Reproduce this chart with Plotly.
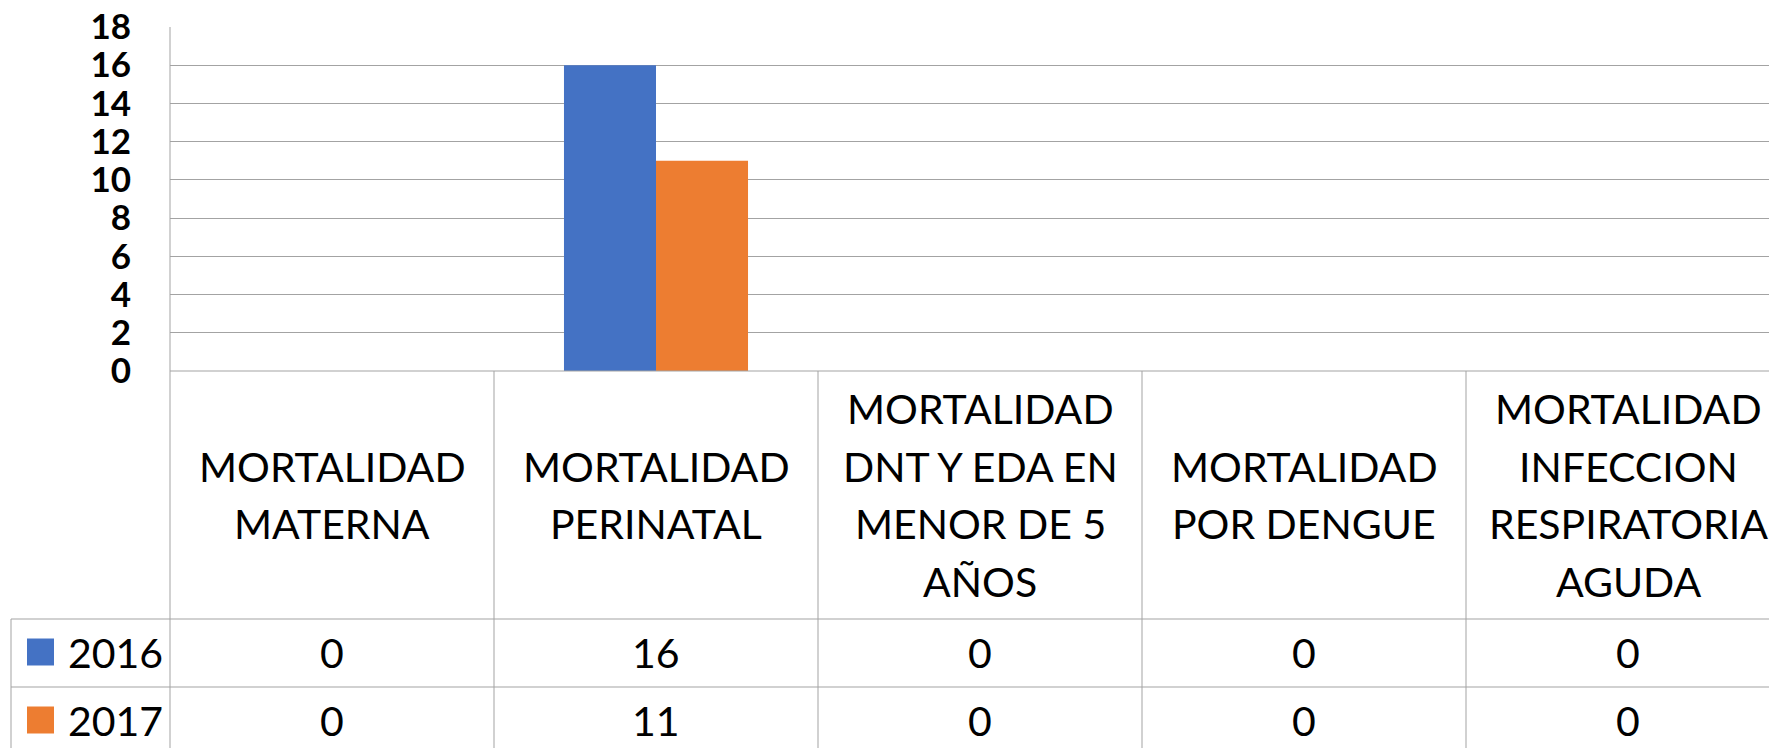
import plotly.graph_objects as go

# ---------------- data ----------------
categories = [
    "MORTALIDAD MATERNA",
    "MORTALIDAD PERINATAL",
    "MORTALIDAD DNT Y EDA EN MENOR DE 5 AÑOS",
    "MORTALIDAD POR DENGUE",
    "MORTALIDAD INFECCION RESPIRATORIA AGUDA",
]
header_labels = [
    "MORTALIDAD<br>MATERNA",
    "MORTALIDAD<br>PERINATAL",
    "MORTALIDAD<br>DNT Y EDA EN<br>MENOR DE 5<br>AÑOS",
    "MORTALIDAD<br>POR DENGUE",
    "MORTALIDAD<br>INFECCION<br>RESPIRATORIA<br>AGUDA",
]
series_names = ["2016", "2017"]
values_2016 = [0, 16, 0, 0, 0]
values_2017 = [0, 11, 0, 0, 0]
series_colors = ["#4472C4", "#ED7D31"]
y_tick_values = [0, 2, 4, 6, 8, 10, 12, 14, 16, 18]

# ---------------- layout geometry ----------------
W, H = 1769, 748
ML, MR, MT, MB = 170, 0, 27, 377
PW, PH = W - ML - MR, H - MT - MB
COL_W = 324.0
X0 = -0.5
X1 = X0 + PW / COL_W

GRID = "#A3A3A3"
FONT = "Lato"
TXT = 41
LINE_GAP = 57.5


def xp(px):
    return (px - ML) / PW


def yp(py):
    return (H - MB - py) / PH


def cat_paper(pos):
    return (pos - X0) / (X1 - X0)


series = [values_2016, values_2017]

fig = go.Figure()
for name, vals, col in zip(series_names, series, series_colors):
    fig.add_trace(go.Bar(x=categories, y=vals, name=name, marker_color=col,
                         marker_line_width=0, showlegend=False))

shapes = []
line = dict(color=GRID, width=1)
# left border of plot + table
shapes.append(dict(type="line", xref="paper", yref="paper", x0=0, x1=0,
                   y0=1, y1=yp(H + 5), line=line))
# column separators in table
for k in range(1, len(categories)):
    xx = cat_paper(k - 0.5)
    if xx <= 1:
        shapes.append(dict(type="line", xref="paper", yref="paper", x0=xx, x1=xx,
                           y0=0, y1=yp(H + 5), line=line))
# horizontal row lines
header_top = H - MB
header_bottom = 619
row_h = 68
for r in range(len(series_names)):
    yy = header_bottom + r * row_h
    shapes.append(dict(type="line", xref="paper", yref="paper", x0=xp(11), x1=1,
                       y0=yp(yy), y1=yp(yy), line=line))
# legend column left border
shapes.append(dict(type="line", xref="paper", yref="paper", x0=xp(11), x1=xp(11),
                   y0=yp(header_bottom), y1=yp(H + 5), line=line))
# baseline
shapes.append(dict(type="line", xref="paper", yref="paper", x0=0, x1=1,
                   y0=0, y1=0, line=line))

annotations = []
# header text, one annotation per line for exact line spacing
header_mid = (header_top + header_bottom) / 2
for cat, lab in zip(categories, header_labels):
    parts = lab.split("<br>")
    n = len(parts)
    for i, part in enumerate(parts):
        cy = header_mid + (i - (n - 1) / 2) * LINE_GAP
        annotations.append(dict(x=cat, xref="x", y=yp(cy), yref="paper",
                                text=part, showarrow=False, xanchor="center",
                                yanchor="middle",
                                font=dict(family=FONT, size=TXT, color="black")))
# rows
for r, (name, vals, col) in enumerate(zip(series_names, series, series_colors)):
    cy = header_bottom + r * row_h + row_h / 2 - 1
    shapes.append(dict(type="rect", xref="paper", yref="paper",
                       x0=xp(27), x1=xp(54), y0=yp(cy - 13.5), y1=yp(cy + 13.5),
                       fillcolor=col, line=dict(width=0)))
    annotations.append(dict(x=xp(66), xref="paper", y=yp(cy), yref="paper",
                            text=name, showarrow=False, xanchor="left", yanchor="middle",
                            font=dict(family=FONT, size=TXT, color="black")))
    for cat, v in zip(categories, vals):
        annotations.append(dict(x=cat, xref="x", y=yp(cy), yref="paper",
                                text=str(v), showarrow=False, xanchor="center",
                                yanchor="middle",
                                font=dict(family=FONT, size=TXT, color="black")))

fig.update_layout(
    width=W, height=H,
    margin=dict(l=ML, r=MR, t=MT, b=MB, pad=0),
    paper_bgcolor="white", plot_bgcolor="white",
    barmode="group", bargap=0.432, bargroupgap=0,
    shapes=shapes, annotations=annotations,
    showlegend=False,
    xaxis=dict(range=[X0, X1], showticklabels=False, showgrid=False, zeroline=False,
               showline=False, ticks="", fixedrange=True),
    yaxis=dict(range=[0, 18], tickvals=y_tick_values, showgrid=True, gridcolor=GRID,
               gridwidth=1, zeroline=False, showline=False, ticks="",
               ticklabelstandoff=38, fixedrange=True,
               tickfont=dict(family=FONT, size=35, color="black", weight="bold")),
)

fig.write_html(
    "out.html",
    config={"displayModeBar": False},
    post_script="document.body.style.margin='0';document.body.style.padding='0';"
                "document.documentElement.style.overflow='hidden';",
)
